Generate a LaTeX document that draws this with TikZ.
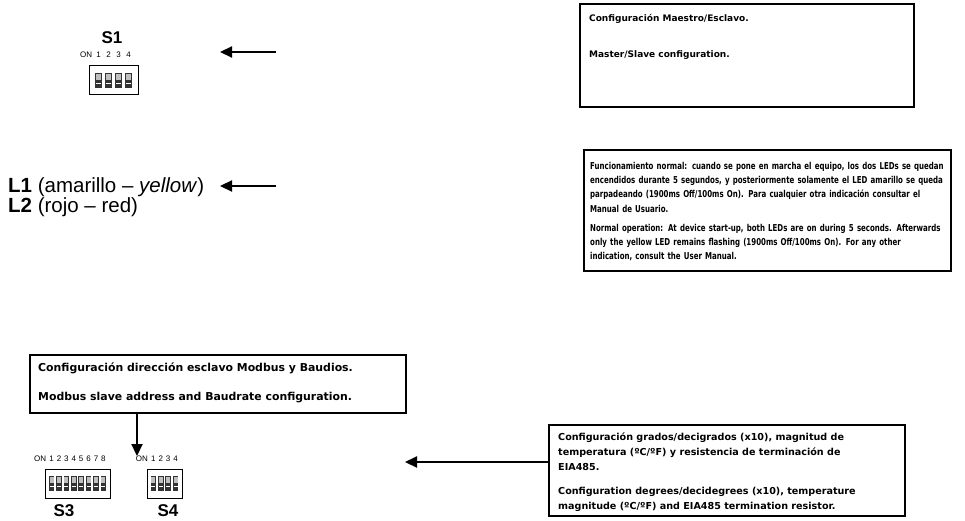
\documentclass[tikz,border=0pt]{standalone}
\usepackage{fontspec}
\setmainfont{Liberation Sans}
\newfontfamily\vfont{DejaVu Sans}
\newfontfamily\vnarrow[FakeStretch=0.74]{DejaVu Sans}
\usetikzlibrary{arrows.meta,shadows}
\tikzset{
 box/.style={draw=black, line width=1.8pt, fill=white, inner sep=0pt, anchor=north west,
   drop shadow={shadow xshift=1.2pt, shadow yshift=-1.2pt, fill=black!35, opacity=1}},
 btxt/.style={anchor=north west, inner sep=0pt, align=left},
 arr/.style={line width=2.2pt, -{Triangle[length=12pt,width=11pt]}},
 lbl/.style={font=\fontsize{8}{8}\selectfont, inner sep=0pt, anchor=base},
 slbl/.style={font=\bfseries\fontsize{17}{17}\selectfont, inner sep=0pt},
 ltxt/.style={font=\fontsize{20.5}{20.5}\selectfont, inner sep=0pt, anchor=base west},
 pics/dip/.style n args={3}{code={
   \draw[line width=1pt, fill=white] (0,0) rectangle (#2,29);
   \pgfmathsetmacro\sw{#3*0.74}
   \pgfmathsetmacro\mm{(#2-(#1-1)*#3-\sw)/2}
   \foreach \k in {1,...,#1}{
     \pgfmathsetmacro\xx{\mm+(\k-1)*#3}
     \fill[black!80] (\xx,7) rectangle ++(\sw,15);
     \fill[gray!50] (\xx+0.8,7.8) rectangle ++(\sw-1.6,6.5);
     \draw[white, line width=0.7pt] (\xx+0.8,17.5) -- ++(\sw-1.6,0);
     \node[lbl] (-d\k) at (\xx+\sw/2,-8) {\k};
   }
   \node[lbl, anchor=base east] (-on) at (\mm-2.5,-8) {ON};
 }}
}
\newcommand{\jl}[1]{\makebox[\linewidth][s]{#1}}
\newcommand{\fl}{\rule{0pt}{10pt}}
\begin{document}
\begin{tikzpicture}[x=1pt,y=-1pt]
\useasboundingbox (0,0) rectangle (965,521);

% ---- S1
\node[slbl] (s1lab) at (112,38) {S1};
\pic (s1) at (89,66) {dip={4}{49}{10}};
\coordinate (tip1) at (220,52);
\coordinate (tail1) at (276,52);
\draw[arr] (tail1) -- (tip1);

% ---- Box 1
\node[box, minimum width=334pt, minimum height=103pt] (b1) at (579,3) {};
\node[btxt, font=\vfont\bfseries\fontsize{9}{14.3}\selectfont] (t1) at (589,11.5)
  {\fl Configuración Maestro/Esclavo.\\[22pt]Master/Slave configuration.};

% ---- LEDs
\node[ltxt] (l1) at (8,193) {\textbf{L1} (amarillo – \textit{yellow})};
\node[ltxt] (l2) at (8,212) {\textbf{L2} (rojo – red)};
\coordinate (tip2) at (220,186);
\coordinate (tail2) at (276,186);
\draw[arr] (tail2) -- (tip2);

% ---- Box 2
\node[box, minimum width=367pt, minimum height=121pt] (b2) at (583,149) {};
\node[btxt, text width=354pt, font=\vnarrow\bfseries\fontsize{9.5}{14.3}\selectfont] (t2) at (590,159) {%
\fl\jl{Funcionamiento normal: cuando se pone en marcha el equipo, los dos LEDs se quedan}\\
\jl{encendidos durante 5 segundos, y posteriormente solamente el LED amarillo se queda}\\
\jl{parpadeando (1900ms Off/100ms On). Para cualquier otra indicación consultar el}\\
Manual de Usuario.\\[4.7pt]
\jl{Normal operation: At device start-up, both LEDs are on during 5 seconds. Afterwards}\\
\jl{only the yellow LED remains flashing (1900ms Off/100ms On). For any other}\\
indication, consult the User Manual.};

% ---- Box 3
\node[box, minimum width=376pt, minimum height=58pt] (b3) at (29,354) {};
\node[btxt, font=\vfont\bfseries\fontsize{10.9}{14.5}\selectfont] (t3) at (38,361)
  {\fl Configuración dirección esclavo Modbus y Baudios.\\[14.5pt]Modbus slave address and Baudrate configuration.};

% ---- S3 / S4
\pic (s3) at (45,469) {dip={8}{65}{7.4}};
\pic (s4) at (147,469) {dip={4}{35}{7.4}};
\node[slbl] (s3lab) at (64,511) {S3};
\node[slbl] (s4lab) at (168,511) {S4};
\coordinate (tip3) at (137,456);
\draw[arr] (b3.south -| tip3) -- (tip3);

% ---- Box 4
\node[box, minimum width=356pt, minimum height=91pt] (b4) at (548,424) {};
\node[btxt, font=\vfont\bfseries\fontsize{9.6}{15}\selectfont] (t4) at (558,430) {\fl Configuración grados/decigrados (x10), magnitud de\\
temperatura (ºC/ºF) y resistencia de terminación de\\
EIA485.\\[9pt]
Configuration degrees/decidegrees (x10), temperature\\
magnitude (ºC/ºF) and EIA485 termination resistor.};
\coordinate (tip4) at (405,462);
\draw[arr] (b4.west |- tip4) -- (tip4);
\end{tikzpicture}
\end{document}
